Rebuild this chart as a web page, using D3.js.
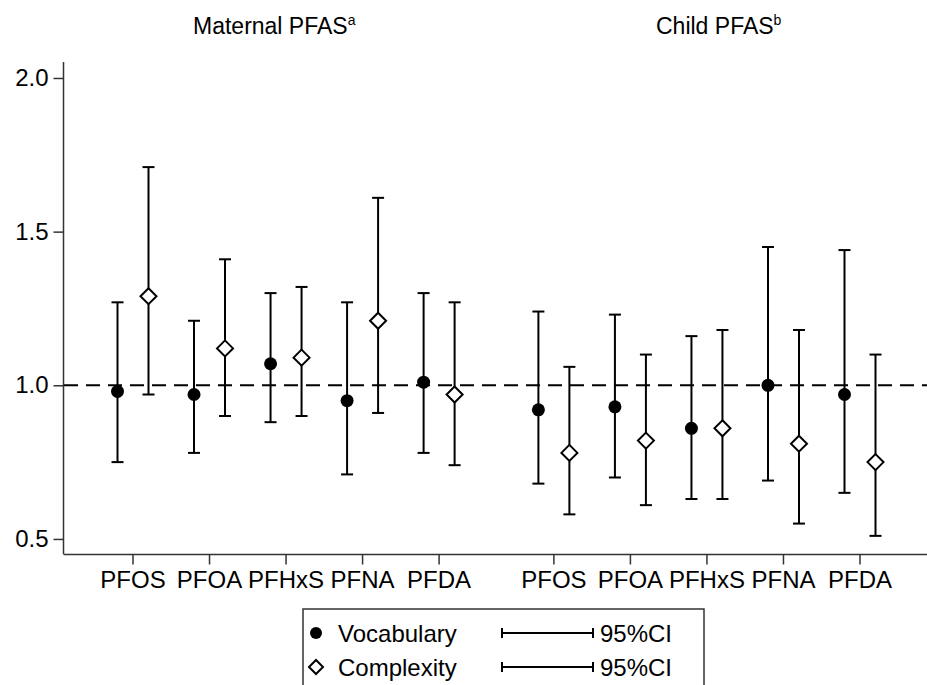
<!DOCTYPE html>
<html>
<head>
<meta charset="utf-8">
<script src="https://cdn.jsdelivr.net/npm/d3@7"></script>
<style>
  body { margin: 0; background: #fff; }
  svg text { font-family: "Liberation Sans", Arial, Helvetica, sans-serif; fill: #000; }
</style>
</head>
<body>
<div id="chart"></div>
<script>
// chemicals, repeated for the two panels
const compounds = ['PFOS', 'PFOA', 'PFHxS', 'PFNA', 'PFDA'];
const panels = ['Maternal PFAS', 'Child PFAS'];
const panelNotes = ['a', 'b'];

// vocabulary: estimate, lower, upper (maternal then child)
const vocabEst = [0.98, 0.97, 1.07, 0.95, 1.01, 0.92, 0.93, 0.86, 1.00, 0.97];
const vocabLo  = [0.75, 0.78, 0.88, 0.71, 0.78, 0.68, 0.70, 0.63, 0.69, 0.65];
const vocabHi  = [1.27, 1.21, 1.30, 1.27, 1.30, 1.24, 1.23, 1.16, 1.45, 1.44];

// complexity
const complexEst = [1.29, 1.12, 1.09, 1.21, 0.97, 0.78, 0.82, 0.86, 0.81, 0.75];
const complexLo  = [0.97, 0.90, 0.90, 0.91, 0.74, 0.58, 0.61, 0.63, 0.55, 0.51];
const complexHi  = [1.71, 1.41, 1.32, 1.61, 1.27, 1.06, 1.10, 1.18, 1.18, 1.10];

const yTicks = [0.5, 1.0, 1.5, 2.0];

const W = 927, H = 685;
const svg = d3.select('#chart').append('svg')
    .attr('width', W).attr('height', H);

// slot positions: 5 per panel with a gap of half a slot between panels
const slots = d3.range(10).map(i => i < 5 ? i : i + 0.5);
const x = d3.scaleLinear().domain([0, 9.5]).range([133, 860]);
const y = d3.scaleLinear().domain([0.451, 2.052]).range([554, 62]);
const off = 15.5;

// y axis
const yAxis = svg.append('g')
    .attr('transform', 'translate(63.5,0)')
    .call(d3.axisLeft(y).tickValues(yTicks).tickFormat(d3.format('.1f')).tickSize(10).tickPadding(5));
yAxis.select('.domain').attr('d', `M0,${y.range()[1]}V${y.range()[0]}`);
yAxis.selectAll('text').style('font-size', '24px');

// x axis
const xAxis = svg.append('g')
    .attr('transform', 'translate(0,554.5)');
xAxis.append('line')
    .attr('x1', 63.5).attr('x2', W).attr('stroke', '#333').attr('stroke-width', 1.5);
xAxis.selectAll('g.tick')
    .data(slots)
    .enter().append('g')
    .attr('class', 'tick')
    .attr('transform', d => `translate(${x(d)},0)`)
    .each(function (d, i) {
        const g = d3.select(this);
        g.append('line').attr('y2', 10).attr('stroke', '#333').attr('stroke-width', 1.5);
        g.append('text').attr('y', 33).attr('text-anchor', 'middle')
            .style('font-size', '24px').text(compounds[i % 5]);
    });

yAxis.selectAll('line, path').attr('stroke', '#333').attr('stroke-width', 1.5);

// reference line at 1
svg.append('line')
    .attr('x1', 64).attr('x2', W)
    .attr('y1', y(1)).attr('y2', y(1))
    .attr('stroke', '#000').attr('stroke-width', 2)
    .attr('stroke-dasharray', '14,8');

// panel titles
const titleX = [193, 656];
panels.forEach((p, i) => {
    const t = svg.append('text')
        .attr('x', titleX[i]).attr('y', 34)
        .style('font-size', '23px');
    t.append('tspan').text(p);
    t.append('tspan').attr('dy', -9).style('font-size', '14px').text(panelNotes[i]);
});

function errorBars(est, lo, hi, dx, cls) {
    const g = svg.append('g').attr('class', cls);
    const rows = est.map((e, i) => ({ s: slots[i], e, lo: lo[i], hi: hi[i] }));
    const bar = g.selectAll('g').data(rows).enter().append('g')
        .attr('stroke', '#000').attr('stroke-width', 2);
    bar.append('line')
        .attr('x1', d => x(d.s) + dx).attr('x2', d => x(d.s) + dx)
        .attr('y1', d => y(d.lo)).attr('y2', d => y(d.hi));
    bar.append('line')
        .attr('x1', d => x(d.s) + dx - 6).attr('x2', d => x(d.s) + dx + 6)
        .attr('y1', d => y(d.lo)).attr('y2', d => y(d.lo));
    bar.append('line')
        .attr('x1', d => x(d.s) + dx - 6).attr('x2', d => x(d.s) + dx + 6)
        .attr('y1', d => y(d.hi)).attr('y2', d => y(d.hi));
    return bar;
}

const vBars = errorBars(vocabEst, vocabLo, vocabHi, -off, 'vocab');
vBars.append('circle')
    .attr('cx', d => x(d.s) - off).attr('cy', d => y(d.e))
    .attr('r', 6.5).attr('fill', '#000').attr('stroke', 'none');

const diamond = (cx, cy, r) => `M${cx},${cy - r}L${cx + r},${cy}L${cx},${cy + r}L${cx - r},${cy}Z`;
const cBars = errorBars(complexEst, complexLo, complexHi, off, 'complex');
cBars.append('path')
    .attr('d', d => diamond(x(d.s) + off, y(d.e), 8))
    .attr('fill', '#fff').attr('stroke', '#000').attr('stroke-width', 2);

// legend
const legend = svg.append('g');
legend.append('rect')
    .attr('x', 303).attr('y', 609).attr('width', 401).attr('height', 90)
    .attr('fill', 'none').attr('stroke', '#333').attr('stroke-width', 1.5);
const legendItems = ['Vocabulary', 'Complexity'];
const legendY = [633, 667];
legendItems.forEach((name, i) => {
    const ly = legendY[i];
    if (i === 0) {
        legend.append('circle').attr('cx', 316).attr('cy', ly).attr('r', 6).attr('fill', '#000');
    } else {
        legend.append('path').attr('d', diamond(316, ly, 7))
            .attr('fill', '#fff').attr('stroke', '#000').attr('stroke-width', 2);
    }
    legend.append('text').attr('x', 338).attr('y', ly + 8.5)
        .style('font-size', '24px').text(name);
    const ci = legend.append('g').attr('stroke', '#000').attr('stroke-width', 2);
    ci.append('line').attr('x1', 502).attr('x2', 593).attr('y1', ly).attr('y2', ly);
    ci.append('line').attr('x1', 502).attr('x2', 502).attr('y1', ly - 5).attr('y2', ly + 5);
    ci.append('line').attr('x1', 593).attr('x2', 593).attr('y1', ly - 5).attr('y2', ly + 5);
    legend.append('text').attr('x', 600).attr('y', ly + 8.5)
        .style('font-size', '24px').text('95%CI');
});
</script>
</body>
</html>
